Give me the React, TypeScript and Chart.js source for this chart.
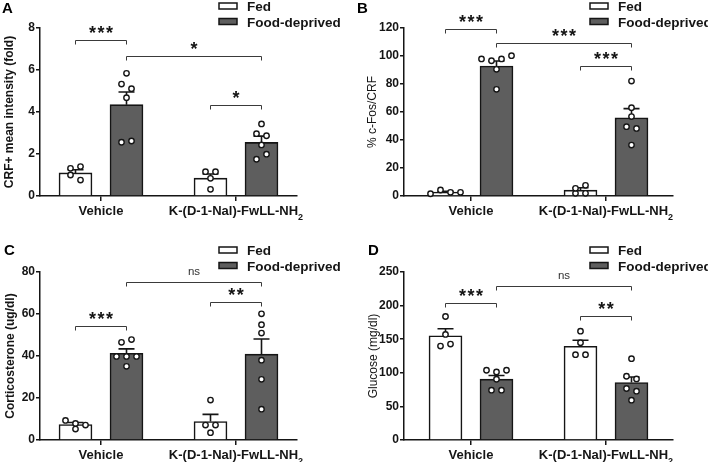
import React, { useEffect, useRef } from 'react';
import { Chart, registerables } from 'chart.js';

Chart.register(...registerables);

const FONT = '"Liberation Sans", Arial, Helvetica, sans-serif';
const INK = '#151515';
const DARK_FILL = '#5e5e5e';

// ---------- shared labels ----------
const categories = ['Vehicle', 'K-(D-1-Nal)-FwLL-NH\u2082'];
const seriesNames = ['Fed', 'Food-deprived'];

type Bracket = { a: [number, number]; b: [number, number]; y: number; label: string };

// ---------- Panel A ----------
const aYTitle = 'CRF+ mean intensity (fold)';
const aYMax = 8;
const aYStep = 2;
const aFedMean = [1.1, 0.85];
const aFedSem = [0.15, 0.2];
const aDepMean = [4.35, 2.55];
const aDepSem = [0.6, 0.3];
const aFedPoints = [[1.32, 1.4, 1.0, 0.76], [1.16, 1.16, 0.84, 0.32]];
const aDepPoints = [[5.84, 5.33, 5.11, 4.68, 2.56, 2.62], [3.43, 2.97, 2.87, 2.43, 1.75, 1.99]];
const aBrackets: Bracket[] = [
  { a: [0, 0], b: [0, 1], y: 7.43, label: '***' },
  { a: [0, 1], b: [1, 1], y: 6.67, label: '*' },
  { a: [1, 0], b: [1, 1], y: 4.33, label: '*' },
];

// ---------- Panel B ----------
const bYTitle = '% c-Fos/CRF';
const bYMax = 120;
const bYStep = 20;
const bFedMean = [2.8, 4.2];
const bFedSem = [0.6, 1.7];
const bDepMean = [92.8, 55.8];
const bDepSem = [3.6, 6.6];
const bFedPoints = [[1.6, 4.3, 2.6, 2.6], [1.9, 5.5, 7.6, 1.9]];
const bDepPoints = [[97.9, 96.6, 97.9, 100.2, 90.5, 76.2], [82.1, 63.1, 56.7, 49.5, 48.3, 36.4]];
const bBrackets: Bracket[] = [
  { a: [0, 0], b: [0, 1], y: 119.3, label: '***' },
  { a: [0, 1], b: [1, 1], y: 109.5, label: '***' },
  { a: [1, 0], b: [1, 1], y: 93, label: '***' },
];

// ---------- Panel C ----------
const cYTitle = 'Corticosterone (ug/dl)';
const cYMax = 80;
const cYStep = 20;
const cFedMean = [7.4, 8.8];
const cFedSem = [0.9, 3.4];
const cDepMean = [41.3, 40.9];
const cDepSem = [2.1, 7.2];
const cFedPoints = [[9.3, 7.9, 7.1, 5.2], [19.0, 7.1, 7.1, 3.5]];
const cDepPoints = [[46.5, 47.8, 39.8, 39.8, 39.8, 35.1], [60.1, 54.9, 50.9, 38.0, 28.9, 14.7]];
const cBrackets: Bracket[] = [
  { a: [0, 0], b: [0, 1], y: 54.4, label: '***' },
  { a: [0, 1], b: [1, 1], y: 75.4, label: 'ns' },
  { a: [1, 0], b: [1, 1], y: 65.8, label: '**' },
];

// ---------- Panel D ----------
const dYTitle = 'Glucose (mg/dl)';
const dYMax = 250;
const dYStep = 50;
const dFedMean = [155, 139.5];
const dFedSem = [10.5, 9];
const dDepMean = [90.5, 85.5];
const dDepSem = [5.5, 8.2];
const dFedPoints = [[183.8, 157.1, 139.8, 142.7], [162, 144.8, 127, 127]];
const dDepPoints = [[103.8, 101.3, 103.8, 90.4, 74.1, 74.1], [121, 94.9, 90.9, 76.6, 72.6, 59.3]];
const dBrackets: Bracket[] = [
  { a: [0, 0], b: [0, 1], y: 204.5, label: '***' },
  { a: [0, 1], b: [1, 1], y: 229.7, label: 'ns' },
  { a: [1, 0], b: [1, 1], y: 184.8, label: '**' },
];

// ---------- layout (styles only) ----------
const CANVAS_W = 354;
const PLOT_TOP = 28;
const PLOT_H = 168;
const GROUP_PX = 135;
const BAR_OFF_PX = 25.5;
const BAR_W = 33;
const POINT_STEP_PX = 10;

type PanelData = {
  yTitle: string; yMax: number; yStep: number;
  means: number[][]; sems: number[][]; points: number[][][]; brackets: Bracket[];
};
type PanelLayout = {
  letter: string; x: number; y: number; h: number; axisW: number; gap: number;
  legendX: number; titleWeight: string; titlePad: number; xAxisH: number;
  letterX: number; letterY: number;
};

const panels: { data: PanelData; layout: PanelLayout }[] = [
  {
    data: { yTitle: aYTitle, yMax: aYMax, yStep: aYStep, means: [aFedMean, aDepMean], sems: [aFedSem, aDepSem], points: [aFedPoints, aDepPoints], brackets: aBrackets },
    layout: { letter: 'A', x: 0, y: 0, h: 231, axisW: 40, gap: 61, legendX: 219, titleWeight: 'bold', titlePad: 2.8, xAxisH: 35, letterX: 2, letterY: 2 },
  },
  {
    data: { yTitle: bYTitle, yMax: bYMax, yStep: bYStep, means: [bFedMean, bDepMean], sems: [bFedSem, bDepSem], points: [bFedPoints, bDepPoints], brackets: bBrackets },
    layout: { letter: 'B', x: 354, y: 0, h: 231, axisW: 50, gap: 67, legendX: 236, titleWeight: 'normal', titlePad: 11.3, xAxisH: 35, letterX: 3, letterY: 2.5 },
  },
  {
    data: { yTitle: cYTitle, yMax: cYMax, yStep: cYStep, means: [cFedMean, cDepMean], sems: [cFedSem, cDepSem], points: [cFedPoints, cDepPoints], brackets: cBrackets },
    layout: { letter: 'C', x: 0, y: 244, h: 218, axisW: 40, gap: 61, legendX: 219, titleWeight: 'bold', titlePad: 3.5, xAxisH: 22, letterX: 4, letterY: 0 },
  },
  {
    data: { yTitle: dYTitle, yMax: dYMax, yStep: dYStep, means: [dFedMean, dDepMean], sems: [dFedSem, dDepSem], points: [dFedPoints, dDepPoints], brackets: dBrackets },
    layout: { letter: 'D', x: 354, y: 244, h: 218, axisW: 50, gap: 67, legendX: 236, titleWeight: 'normal', titlePad: 12.8, xAxisH: 22, letterX: 14, letterY: 0.5 },
  },
];

// beeswarm-like horizontal arrangement (pixel offsets) for points with close values
function swarm(vals: number[], yUnitsPerPx: number): number[] {
  const thr = 6 * yUnitsPerPx;
  const order = vals.map((_, i) => i).sort((i, j) => vals[j] - vals[i] || i - j);
  const rows: number[][] = [];
  for (const i of order) {
    const row = rows[rows.length - 1];
    if (row && vals[row[0]] - vals[i] < thr) row.push(i);
    else rows.push([i]);
  }
  const off = new Array(vals.length).fill(0);
  for (const row of rows) {
    row.sort((i, j) => i - j);
    row.forEach((i, k) => {
      off[i] = (k - (row.length - 1) / 2) * POINT_STEP_PX;
    });
  }
  return off;
}

function fillMiddle(ctx: CanvasRenderingContext2D, txt: string, x: number, yc: number, align: CanvasTextAlign) {
  ctx.textAlign = align;
  ctx.textBaseline = 'alphabetic';
  const m = ctx.measureText(txt);
  ctx.fillText(txt, x, yc + (m.actualBoundingBoxAscent - m.actualBoundingBoxDescent) / 2);
}

function Panel({ data, layout }: { data: PanelData; layout: PanelLayout }) {
  const ref = useRef<HTMLCanvasElement>(null);

  useEffect(() => {
    const canvas = ref.current;
    if (!canvas) return;
    const plotW = GROUP_PX + 2 * layout.gap;
    const padRight = CANVAS_W - layout.axisW - plotW;
    const xMin = 1 - layout.gap / GROUP_PX;
    const xMax = 2 + layout.gap / GROUP_PX;
    const sOff = [-BAR_OFF_PX / GROUP_PX, BAR_OFF_PX / GROUP_PX];
    const yUnitsPerPx = data.yMax / PLOT_H;

    const scatterSets = [0, 1].map((s) => {
      const pts: { x: number; y: number }[] = [];
      data.points[s].forEach((vals, g) => {
        const off = swarm(vals, yUnitsPerPx);
        vals.forEach((v, i) => pts.push({ x: g + 1 + sOff[s] + off[i] / GROUP_PX, y: v }));
      });
      return {
        type: 'scatter' as const,
        label: seriesNames[s] + ' points',
        data: pts,
        order: 0,
        clip: false as any,
        pointRadius: 2.7,
        pointHoverRadius: 2.7,
        pointBorderWidth: 1.4,
        pointBackgroundColor: '#ffffff',
        pointBorderColor: INK,
        backgroundColor: '#ffffff',
        borderColor: INK,
      };
    });

    const barSets = [0, 1].map((s) => ({
      type: 'bar' as const,
      label: seriesNames[s],
      data: data.means[s].map((m, g) => ({ x: g + 1 + sOff[s], y: m })),
      sem: data.sems[s],
      order: 1,
      grouped: false,
      categoryPercentage: 1,
      barPercentage: 1,
      maxBarThickness: BAR_W,
      backgroundColor: s === 0 ? '#ffffff' : DARK_FILL,
      borderColor: INK,
      borderWidth: 1.6,
    }));

    const decor = {
      id: 'decor',
      afterDatasetDraw(chart: any, args: any) {
        const ds: any = chart.data.datasets[args.index];
        if (!ds.sem) return;
        const ctx: CanvasRenderingContext2D = chart.ctx;
        const ys = chart.scales.y;
        ctx.save();
        ctx.strokeStyle = INK;
        ctx.lineWidth = 1.6;
        args.meta.data.forEach((el: any, i: number) => {
          const top = ys.getPixelForValue(ds.data[i].y + ds.sem[i]);
          ctx.beginPath();
          ctx.moveTo(el.x, el.y);
          ctx.lineTo(el.x, top);
          ctx.moveTo(el.x - 8, top);
          ctx.lineTo(el.x + 8, top);
          ctx.stroke();
        });
        ctx.restore();
      },
      afterDraw(chart: any) {
        const ctx: CanvasRenderingContext2D = chart.ctx;
        const ys = chart.scales.y;
        const xs = chart.scales.x;
        const area = chart.chartArea;
        const barX = (g: number, s: number) => chart.getDatasetMeta(2 + s).data[g].x;
        ctx.save();

        // significance brackets
        data.brackets.forEach((b) => {
          const x1 = barX(b.a[0], b.a[1]);
          const x2 = barX(b.b[0], b.b[1]);
          const y = Math.round(ys.getPixelForValue(b.y)) + 0.5;
          ctx.strokeStyle = '#3a3a3a';
          ctx.lineWidth = 1;
          ctx.beginPath();
          ctx.moveTo(x1, y + 4);
          ctx.lineTo(x1, y);
          ctx.lineTo(x2, y);
          ctx.lineTo(x2, y + 4);
          ctx.stroke();
          const cx = (x1 + x2) / 2;
          const cy = y - 11;
          ctx.fillStyle = INK;
          if (b.label === 'ns') {
            ctx.font = `normal 11.5px ${FONT}`;
            ctx.fillStyle = '#333';
            fillMiddle(ctx, b.label, cx, cy, 'center');
          } else {
            ctx.font = `bold 18px ${FONT}`;
            const n = b.label.length;
            for (let k = 0; k < n; k++) {
              fillMiddle(ctx, b.label[k], cx + (k - (n - 1) / 2) * 8.5, cy, 'center');
            }
          }
        });

        // category labels (with subscript)
        ctx.fillStyle = INK;
        const baseY = area.bottom + 19.2;
        categories.forEach((cat, g) => {
          const tx = xs.getPixelForValue(g + 1);
          const parts = cat.split('\u2082');
          const main = parts[0];
          const hasSub = parts.length > 1;
          ctx.font = `bold 13px ${FONT}`;
          const mw = ctx.measureText(main).width;
          ctx.font = `bold 9px ${FONT}`;
          const sw = hasSub ? ctx.measureText('2').width : 0;
          const start = tx - (mw + sw) / 2;
          ctx.textAlign = 'left';
          ctx.textBaseline = 'alphabetic';
          ctx.font = `bold 13px ${FONT}`;
          ctx.fillText(main, start, baseY);
          if (hasSub) {
            ctx.font = `bold 9px ${FONT}`;
            ctx.fillText('2', start + mw, baseY + 4.5);
          }
        });

        // legend
        [6, 21.5].forEach((yc, s) => {
          ctx.fillStyle = s === 0 ? '#ffffff' : DARK_FILL;
          ctx.strokeStyle = INK;
          ctx.lineWidth = 1.5;
          ctx.fillRect(layout.legendX, yc - 3, 18, 6);
          ctx.strokeRect(layout.legendX, yc - 3, 18, 6);
          ctx.fillStyle = INK;
          ctx.font = `bold 13.5px ${FONT}`;
          ctx.textAlign = 'left';
          ctx.textBaseline = 'alphabetic';
          ctx.fillText(seriesNames[s], layout.legendX + 28, yc + 5);
        });

        // panel letter
        ctx.fillStyle = '#000';
        ctx.font = `bold 15px ${FONT}`;
        ctx.textAlign = 'left';
        ctx.textBaseline = 'alphabetic';
        ctx.fillText(layout.letter, layout.letterX, layout.letterY + 10.8);
        ctx.restore();
      },
    };

    const chart = new Chart(canvas, {
      type: 'bar',
      data: { datasets: [...scatterSets, ...barSets] as any },
      options: {
        responsive: false,
        maintainAspectRatio: false,
        devicePixelRatio: 1,
        animation: false,
        events: [],
        layout: { padding: { top: PLOT_TOP, right: padRight, bottom: 0, left: 0 } },
        plugins: { legend: { display: false }, tooltip: { enabled: false }, title: { display: false } },
        scales: {
          x: {
            type: 'linear',
            min: xMin,
            max: xMax,
            offset: false,
            afterBuildTicks: (s: any) => {
              s.ticks = [{ value: 1 }, { value: 2 }];
            },
            afterFit: (s: any) => {
              s.height = layout.xAxisH;
            },
            ticks: { display: false },
            grid: { display: true, offset: false, drawOnChartArea: false, drawTicks: true, tickLength: 5, color: INK, lineWidth: 1.5 },
            border: { display: true, color: INK, width: 1.5 },
          },
          y: {
            type: 'linear',
            min: 0,
            max: data.yMax,
            afterFit: (s: any) => {
              s.width = layout.axisW;
            },
            ticks: {
              stepSize: data.yStep,
              padding: 1,
              color: INK,
              font: { family: FONT, size: 12, weight: 'bold' },
            },
            grid: { display: true, drawOnChartArea: false, drawTicks: true, tickLength: 4, color: INK, lineWidth: 1.5 },
            border: { display: true, color: INK, width: 1.5 },
            title: {
              display: true,
              text: data.yTitle,
              color: INK,
              font: { family: FONT, size: 12, weight: layout.titleWeight as any },
              padding: { top: layout.titlePad, bottom: 0 },
            },
          },
        },
      } as any,
      plugins: [decor],
    });
    return () => chart.destroy();
  }, [data, layout]);

  return (
    <canvas
      ref={ref}
      width={CANVAS_W}
      height={layout.h}
      style={{ position: 'absolute', left: layout.x, top: layout.y, width: CANVAS_W, height: layout.h }}
    />
  );
}

export default function App() {
  return (
    <div style={{ position: 'fixed', left: 0, top: 0, width: 708, height: 462, background: '#ffffff', overflow: 'hidden' }}>
      {panels.map((p) => (
        <Panel key={p.layout.letter} data={p.data} layout={p.layout} />
      ))}
    </div>
  );
}
